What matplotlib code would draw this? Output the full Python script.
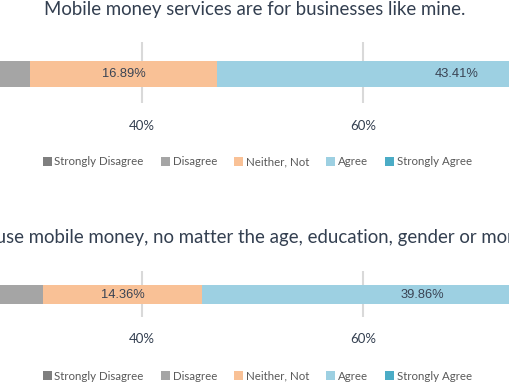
import matplotlib
matplotlib.use("Agg")
import matplotlib.pyplot as plt
from matplotlib.patches import Patch

# ---- data ----
categories = ["Strongly Disagree", "Disagree", "Neither, Not", "Agree", "Strongly Agree"]
titles = [
    "Mobile money services are for businesses like mine.",
    "Everyone can use mobile money, no matter the age, education, gender or monthly income.",
]
panel1_values = [11.50, 18.36, 16.89, 43.41, 9.84]
panel2_values = [12.40, 18.63, 14.36, 39.86, 14.75]
tick_values = [0, 20, 40, 60, 80, 100]
tick_labels = ["0%", "20%", "40%", "60%", "80%", "100%"]
colors = ["#7F7F7F", "#A5A5A5", "#F9C196", "#9DD0E2", "#4BACC6"]

W, H = 510, 382
fig = plt.figure(figsize=(W / 100, H / 100), dpi=100)
fig.patch.set_facecolor("white")

FONT = "Lato"
TITLE_C = "#333F50"
LABEL_C = "#3A4454"

# pixel geometry helpers
x0_px = 142.3 - 40 * 11.05       # pixel of 0 %
x100_px = 142.3 + 60 * 11.05     # pixel of 100 %

def add_panel(values, title, title_x, ax_top, ax_bot, bar_top, bar_bot, title_base, legend_y, tick_pad):
    left = x0_px / W
    width = (x100_px - x0_px) / W
    ax = fig.add_axes([left, 1 - ax_bot / H, width, (ax_bot - ax_top) / H])
    unit = bar_bot - bar_top
    ax.set_ylim(-0.5 - (ax_bot - bar_bot) / unit, 0.5 + (bar_top - ax_top) / unit)
    ax.set_xlim(0, 100)
    start = 0
    for v, c in zip(values, colors):
        ax.barh(0, v, left=start, height=1.0, color=c, edgecolor="none", zorder=2)
        ax.text(start + v / 2, 0, f"{v:.2f}%", ha="center", va="center",
                fontsize=9.3, color=LABEL_C, family="Liberation Sans", zorder=3)
        start += v
    ax.set_xticks(tick_values)
    ax.set_xticklabels(tick_labels, family=FONT, fontsize=9.5, color=TITLE_C)
    ax.tick_params(axis="x", length=0, pad=tick_pad)
    ax.set_yticks([])
    ax.grid(axis="x", color="#D9D9D9", linewidth=1.5, zorder=0)
    ax.set_axisbelow(True)
    for s in ax.spines.values():
        s.set_visible(False)
    ax.patch.set_alpha(0)
    fig.text(title_x / W, 1 - title_base / H, title, ha="center", va="baseline",
             fontsize=13.45, color=TITLE_C, family=FONT)
    handles = [Patch(facecolor=c, edgecolor="none", label=l) for c, l in zip(colors, categories)]
    fig.legend(handles=handles, loc="center", bbox_to_anchor=(257.5 / W, 1 - legend_y / H),
               ncol=5, frameon=False, prop={"family": FONT, "size": 8.3},
               labelcolor="#595959", handlelength=0.75, handleheight=0.75,
               handletextpad=0.25, columnspacing=1.5, borderpad=0, borderaxespad=0)
    return ax

add_panel(panel1_values, titles[0], 255.0, 42, 103, 61, 86.7, 15, 162, 12.5)
add_panel(panel2_values, titles[1], 249.0, 271, 317, 285, 304.3, 243.3, 376, 11.5)

fig.savefig("out.png", dpi=100, facecolor="white")
